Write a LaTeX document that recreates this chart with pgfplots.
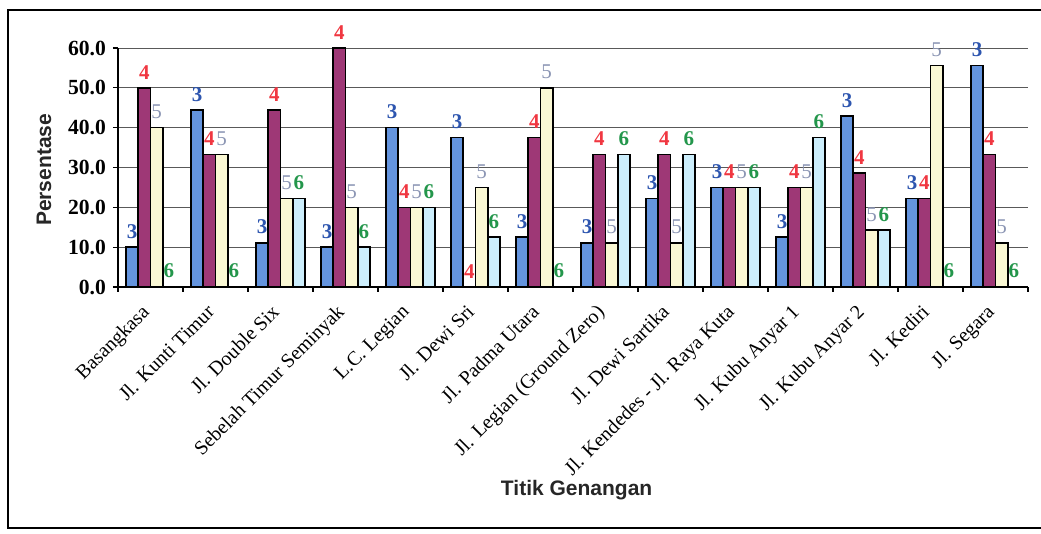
\documentclass[border=0pt]{standalone}
\usepackage{pgfplots}
\pgfplotsset{compat=1.18}
\usepackage{pgfplotstable}
\usepackage{fontspec}
\setmainfont{Liberation Serif}
\newfontfamily\arialfont{Liberation Sans}
\definecolor{bblue}{RGB}{100,148,222}
\definecolor{bpurple}{RGB}{158,56,118}
\definecolor{byellow}{RGB}{250,248,212}
\definecolor{bcyan}{RGB}{204,238,252}
\definecolor{lblue}{RGB}{45,85,175}
\definecolor{lred}{RGB}{240,55,65}
\definecolor{lgray}{RGB}{140,150,180}
\definecolor{lgreen}{RGB}{35,150,75}
\pgfplotstableread{
x s3 s4 s5 s6
0 10.0 50.0 40.0 0
1 44.4 33.3 33.3 0
2 11.1 44.4 22.2 22.2
3 10.0 60.0 20.0 10.0
4 40.0 20.0 20.0 20.0
5 37.5 0 25.0 12.5
6 12.5 37.5 50.0 0
7 11.1 33.3 11.1 33.3
8 22.2 33.3 11.1 33.3
9 25.0 25.0 25.0 25.0
10 12.5 25.0 25.0 37.5
11 42.9 28.6 14.3 14.3
12 22.2 22.2 55.6 0
13 55.6 33.3 11.1 0
}\data
\begin{document}
\begin{tikzpicture}
\useasboundingbox (-59pt,-123.5pt) rectangle (461.5pt,143.5pt);
\draw[line width=1pt] (462pt,138.5pt) -- (-55pt,138.5pt) -- (-55pt,-120.5pt) -- (462pt,-120.5pt);
\begin{axis}[
  at={(0pt,0pt)}, anchor=south west, scale only axis,
  width=455pt, height=119.5pt,
  xmin=-0.5, xmax=13.5, ymin=0, ymax=60,
  clip=false,
  ybar=0pt, bar width=6.15pt,
  axis lines*=left,
  axis line style={line width=0.7pt, black},
  tick align=outside, major tick length=2.5pt,
  tick style={black, line width=0.6pt},
  xtick={-0.5,0.5,...,13.5},
  x tick label as interval,
  xticklabels={Basangkasa, Jl. Kunti Timur, Jl. Double Six, Sebelah Timur Seminyak, L.C. Legian, Jl. Dewi Sri, Jl. Padma Utara, Jl. Legian (Ground Zero), Jl. Dewi Sartika, Jl. Kendedes - Jl. Raya Kuta, Jl. Kubu Anyar 1, Jl. Kubu Anyar 2, Jl. Kediri, Jl. Segara},
  xticklabel style={rotate=45, anchor=north east, font=\fontsize{10}{12}\selectfont, yshift=0.7pt, xshift=-6.4pt, inner sep=1pt},
  ytick={0,10,...,60},
  yticklabel style={font=\bfseries\fontsize{10.8}{12}\selectfont, /pgf/number format/fixed, /pgf/number format/fixed zerofill, /pgf/number format/precision=1},
  /pgf/number format/assume math mode=true,
  ymajorgrids,
  major grid style={draw=black!65, line width=0.5pt},
  ylabel={Persentase},
  ylabel style={font=\arialfont\bfseries\fontsize{10.5}{12}\selectfont, at={(axis description cs:-0.0813,0.49)}, anchor=center, text=black!85},
  xlabel={Titik Genangan},
  xlabel style={font=\arialfont\bfseries\fontsize{10.5}{12}\selectfont, at={(axis description cs:0.504,-0.849)}, anchor=center, text=black!85},
  every node near coord/.append style={font=\bfseries\fontsize{10.5}{12}\selectfont, yshift=3pt, inner sep=1pt},
]
\addplot[fill=bblue, draw=black, line width=0.8pt, nodes near coords={3}, every node near coord/.append style={text=lblue}] table[x=x,y=s3]{\data};
\addplot[fill=bpurple, draw=black, line width=0.8pt, nodes near coords={4}, every node near coord/.append style={text=lred}] table[x=x,y=s4]{\data};
\addplot[fill=byellow, draw=black, line width=0.8pt, nodes near coords={5}, every node near coord/.append style={text=lgray, font=\fontsize{10.5}{12}\selectfont}] table[x=x,y=s5]{\data};
\addplot[fill=bcyan, draw=black, line width=0.8pt, nodes near coords={6}, every node near coord/.append style={text=lgreen}] table[x=x,y=s6]{\data};
\end{axis}
\end{tikzpicture}
\end{document}
